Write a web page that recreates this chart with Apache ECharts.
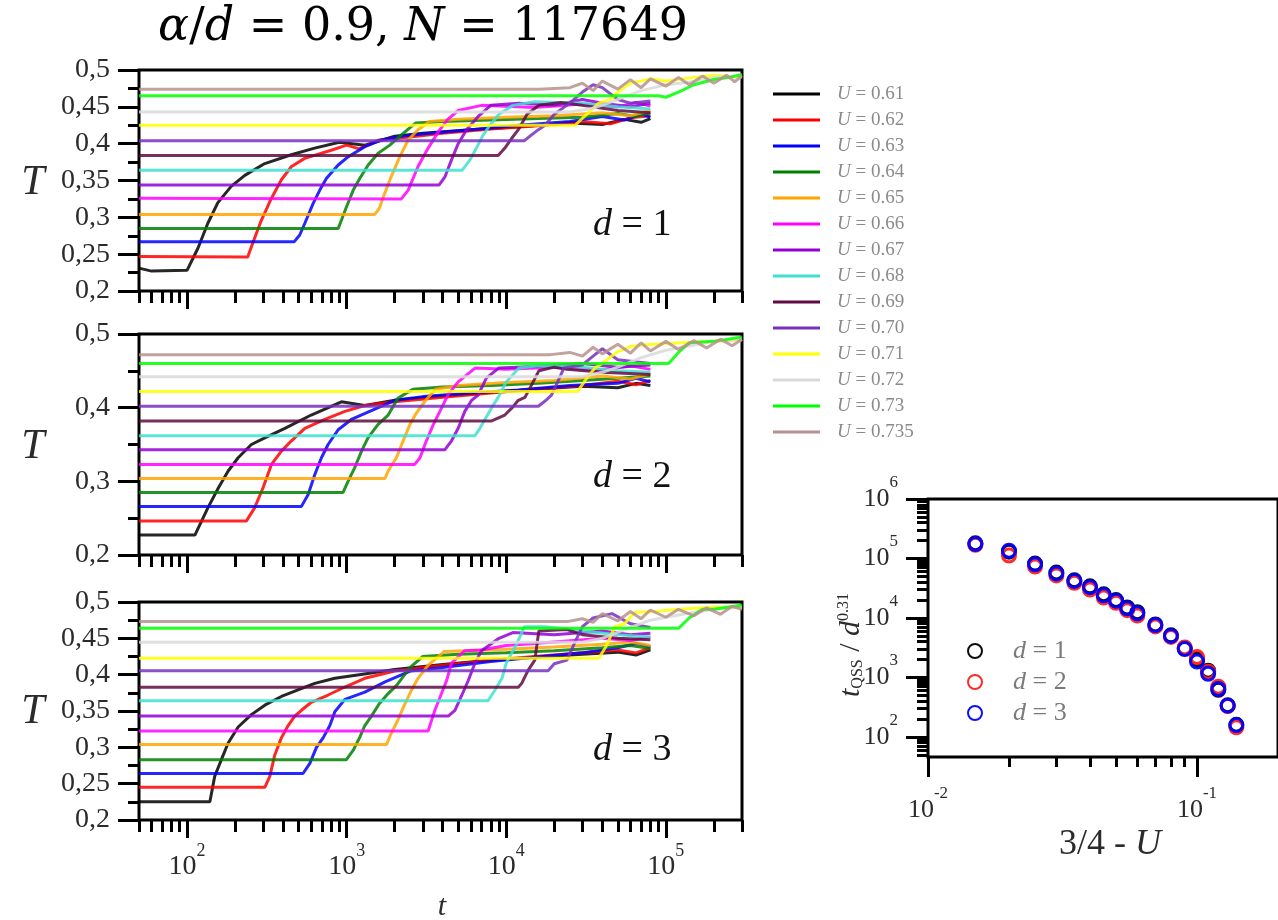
<!DOCTYPE html>
<html>
<head>
<meta charset="utf-8">
<script src="https://cdn.jsdelivr.net/npm/echarts@6/dist/echarts.min.js"></script>
<style>
html, body { margin: 0; background: #fff; }
#chart { width: 1278px; height: 920px; }
</style>
</head>
<body>
<div id="chart"></div>
<script>
// U values shown in the legend, one curve per value in every panel
const uValues = ['0.61', '0.62', '0.63', '0.64', '0.65', '0.66', '0.67', '0.68', '0.69', '0.70', '0.71', '0.72', '0.73', '0.735']
const lineColors = ['#000000', '#ff0000', '#0000ff', '#008000', '#ffa500', '#ff00ff', '#9400d3', '#40e0d0',
    '#5f0a42', '#7630c0', '#ffff00', '#d9d9d9', '#00ff00', '#b8908c']

// T(t) curves, d = 1
const curvesD1 = [
    [[50,.231],[60,.227],[100,.228],[117,.258],[135,.292],[156,.32],[189,.342],[230,.357],[307,.373],[450,.385],[630,.394],[900,.402],[1300,.398],[2000,.41],[3000,.414],[6000,.419],[1.2e4,.423],[2.5e4,.428],[4e4,.426],[5.5e4,.433],[7e4,.429],[8e4,.434]],
    [[50,.247],[240,.246],[253,.26],[292,.296],[338,.326],[390,.351],[451,.369],[546,.38],[800,.391],[1000,.398],[1200,.393],[1600,.405],[2500,.409],[4000,.414],[8000,.42],[1.5e4,.424],[3e4,.43],[4.5e4,.427],[6e4,.435],[8e4,.438]],
    [[50,.267],[470,.267],[508,.276],[547,.292],[617,.319],[679,.337],[748,.353],[885,.371],[1020,.382],[1300,.396],[1650,.405],[2200,.41],[3000,.413],[6000,.419],[1.2e4,.425],[2.5e4,.43],[4e4,.437],[5.5e4,.432],[7e4,.44],[8e4,.436]],
    [[50,.285],[886,.285],[927,.296],[997,.314],[1100,.337],[1210,.353],[1365,.371],[1575,.387],[1865,.398],[2200,.412],[2700,.428],[4000,.43],[8000,.432],[1.6e4,.434],[3e4,.436],[5e4,.441],[6.5e4,.437],[8e4,.442]],
    [[50,.304],[1500,.304],[1600,.312],[1700,.328],[1900,.355],[2150,.382],[2430,.405],[2800,.419],[3300,.43],[5000,.433],[1e4,.436],[2e4,.438],[4e4,.442],[6e4,.438],[8e4,.445]],
    [[50,.326],[2200,.325],[2430,.337],[2800,.369],[3240,.394],[3750,.416],[4300,.433],[5000,.445],[7000,.452],[1.5e4,.449],[3e4,.454],[5e4,.45],[6.5e4,.456],[8e4,.451]],
    [[50,.344],[3800,.344],[4130,.355],[4540,.378],[5000,.40],[5640,.419],[6670,.437],[8000,.452],[1.2e4,.455],[2e4,.452],[3e4,.46],[4e4,.455],[6e4,.45],[8e4,.455]],
    [[50,.364],[5300,.364],[5930,.378],[6500,.394],[7170,.412],[7900,.425],[9000,.44],[1.1e4,.452],[1.5e4,.457],[3e4,.455],[5e4,.45],[8e4,.447]],
    [[50,.384],[8900,.384],[9800,.394],[1.08e4,.407],[1.19e4,.419],[1.35e4,.44],[1.6e4,.452],[2.2e4,.456],[3e4,.452],[5e4,.445],[8e4,.442]],
    [[50,.404],[1.3e4,.404],[1.44e4,.412],[1.59e4,.419],[1.75e4,.425],[2e4,.44],[2.5e4,.455],[3e4,.47],[3.5e4,.48],[4e4,.476],[5e4,.46],[6e4,.455],[8e4,.458]],
    [[50,.425],[2.7e4,.425],[3.2e4,.44],[3.8e4,.455],[4.5e4,.46],[5e4,.47],[6e4,.482],[8e4,.488],[1e5,.485],[1.5e5,.49],[2e5,.493],[3e5,.49]],
    [[50,.443],[2.5e4,.443],[3.5e4,.448],[5e4,.46],[7e4,.472],[1e5,.48],[1.5e5,.484],[2e5,.49],[3e5,.492]],
    [[50,.465],[9e4,.465],[1e5,.463],[1.2e5,.47],[1.5e5,.48],[2e5,.487],[2.5e5,.49],[3e5,.494]],
    [[50,.474],[1.6e4,.474],[2.5e4,.476],[3e4,.482],[3.5e4,.472],[4e4,.485],[5e4,.474],[6e4,.487],[7e4,.476],[8e4,.488],[1e5,.478],[1.2e5,.49],[1.4e5,.48],[1.7e5,.492],[2e5,.482],[2.4e5,.493],[2.7e5,.484],[3e5,.492]]
]

// T(t) curves, d = 2
const curvesD2 = [
    [[50,.227],[112,.227],[135,.264],[157,.291],[181,.314],[209,.332],[253,.35],[307,.359],[410,.372],[600,.39],[927,.408],[1300,.403],[2000,.41],[4000,.416],[8000,.421],[1.5e4,.425],[3e4,.429],[5e4,.427],[6.5e4,.433],[8e4,.43]],
    [[50,.246],[235,.246],[265,.264],[299,.291],[338,.323],[390,.341],[451,.355],[547,.372],[730,.384],[975,.395],[1300,.403],[2000,.408],[4000,.414],[8000,.42],[1.5e4,.425],[3e4,.43],[5e4,.436],[6.5e4,.431],[8e4,.437]],
    [[50,.266],[521,.266],[574,.282],[631,.309],[695,.332],[765,.35],[885,.37],[1070,.384],[1430,.396],[2000,.41],[3000,.415],[6000,.42],[1.2e4,.424],[2.5e4,.43],[5e4,.433],[6.5e4,.44],[8e4,.435]],
    [[50,.285],[950,.285],[1020,.30],[1120,.318],[1240,.341],[1360,.359],[1570,.377],[1820,.39],[2100,.413],[2600,.425],[4000,.428],[8000,.43],[1.6e4,.433],[3e4,.437],[5e4,.44],[8e4,.443]],
    [[50,.304],[1740,.304],[1820,.314],[2050,.332],[2260,.355],[2490,.377],[2740,.393],[3100,.409],[3600,.425],[5000,.43],[1e4,.434],[2e4,.437],[4e4,.443],[6e4,.439],[8e4,.446]],
    [[50,.323],[2670,.323],[2880,.332],[3160,.355],[3490,.377],[3840,.395],[4330,.418],[5000,.435],[6400,.454],[1e4,.452],[2e4,.455],[4e4,.451],[6e4,.457],[8e4,.452]],
    [[50,.343],[4130,.343],[4540,.355],[5000,.372],[5500,.395],[6070,.41],[6670,.417],[7500,.44],[9000,.454],[1.5e4,.456],[3e4,.46],[5e4,.455],[8e4,.458]],
    [[50,.362],[6370,.362],[6840,.372],[7350,.384],[8100,.40],[8900,.414],[1e4,.435],[1.2e4,.454],[1.6e4,.457],[3e4,.455],[5e4,.45],[8e4,.448]],
    [[50,.382],[8100,.382],[9800,.39],[1.09e4,.40],[1.19e4,.41],[1.31e4,.414],[1.45e4,.432],[1.6e4,.45],[2e4,.455],[2.4e4,.452],[4e4,.448],[8e4,.445]],
    [[50,.402],[1.59e4,.402],[1.75e4,.409],[1.92e4,.417],[2.1e4,.435],[2.3e4,.454],[3e4,.458],[3.5e4,.47],[4e4,.48],[5e4,.465],[8e4,.46]],
    [[50,.422],[2.8e4,.422],[3.2e4,.44],[3.6e4,.454],[4e4,.46],[4.9e4,.475],[6e4,.483],[7.1e4,.485],[1e5,.487],[2e5,.49],[3e5,.492]],
    [[50,.442],[3e4,.442],[4e4,.448],[5e4,.455],[7e4,.468],[1e5,.478],[1.5e5,.485],[2e5,.49],[3e5,.493]],
    [[50,.46],[1.04e5,.46],[1.2e5,.475],[1.4e5,.488],[2e5,.49],[3e5,.496]],
    [[50,.472],[1.9e4,.472],[2.5e4,.475],[3e4,.47],[3.5e4,.482],[4e4,.473],[5e4,.486],[6e4,.474],[7e4,.488],[8e4,.477],[1e5,.49],[1.2e5,.479],[1.5e5,.491],[1.8e5,.481],[2.2e5,.493],[2.6e5,.484],[3e5,.493]]
]

// T(t) curves, d = 3
const curvesD3 = [
    [[50,.225],[139,.225],[149,.26],[164,.283],[181,.306],[209,.328],[253,.345],[307,.358],[390,.37],[496,.379],[631,.388],[843,.395],[1200,.40],[2000,.407],[4000,.414],[8000,.42],[1.5e4,.424],[3e4,.428],[5e4,.431],[6.5e4,.427],[8e4,.434]],
    [[50,.245],[307,.245],[330,.26],[354,.289],[390,.313],[430,.33],[473,.343],[521,.351],[600,.362],[765,.372],[975,.383],[1300,.395],[2000,.405],[4000,.413],[8000,.42],[1.5e4,.425],[3e4,.43],[5e4,.434],[6.5e4,.43],[8e4,.437]],
    [[50,.264],[533,.264],[588,.278],[647,.30],[712,.313],[785,.33],[843,.349],[975,.366],[1300,.376],[1740,.39],[2500,.405],[4000,.41],[8000,.418],[1.5e4,.424],[3e4,.43],[5e4,.437],[6.5e4,.443],[8e4,.438]],
    [[50,.283],[997,.283],[1100,.296],[1210,.314],[1300,.33],[1430,.343],[1600,.36],[1820,.374],[2050,.385],[2500,.41],[3000,.425],[5000,.428],[1e4,.43],[2e4,.433],[4e4,.437],[6e4,.44],[8e4,.436]],
    [[50,.304],[1780,.304],[1900,.319],[2100,.338],[2300,.358],[2550,.379],[2800,.395],[3240,.413],[4100,.432],[5500,.433],[1e4,.435],[2e4,.438],[4e4,.442],[6e4,.445],[8e4,.44]],
    [[50,.3225],[3240,.3225],[3570,.351],[3930,.374],[4230,.392],[4540,.416],[5500,.433],[7000,.434],[1e4,.44],[2e4,.445],[4e4,.45],[6e4,.447],[8e4,.452]],
    [[50,.343],[4330,.343],[4770,.351],[5250,.371],[5780,.392],[6370,.416],[7000,.433],[9000,.45],[1.1e4,.458],[2e4,.455],[4e4,.46],[6e4,.455],[8e4,.457]],
    [[50,.364],[7700,.364],[8500,.379],[9400,.395],[1e4,.416],[1.15e4,.44],[1.3e4,.466],[1.75e4,.466],[3e4,.46],[5e4,.455],[8e4,.452]],
    [[50,.3826],[1.19e4,.3826],[1.25e4,.388],[1.37e4,.406],[1.51e4,.42],[1.6e4,.46],[2.4e4,.462],[3e4,.455],[5e4,.45],[8e4,.448]],
    [[50,.4055],[1.83e4,.4055],[2e4,.415],[2.4e4,.42],[2.7e4,.445],[3e4,.466],[3.5e4,.478],[4.6e4,.484],[6e4,.47],[8e4,.465]],
    [[50,.4225],[3.8e4,.4225],[4.2e4,.438],[4.8e4,.466],[5.5e4,.47],[6.4e4,.486],[8.5e4,.487],[1.2e5,.49],[2e5,.493],[3e5,.492]],
    [[50,.4445],[3e4,.4445],[4e4,.45],[6e4,.465],[8e4,.475],[1.2e5,.482],[2e5,.49],[3e5,.493]],
    [[50,.4638],[1.2e5,.4638],[1.4e5,.478],[1.7e5,.49],[2e5,.49],[3e5,.496]],
    [[50,.473],[2.4e4,.473],[3e4,.477],[3.5e4,.472],[4e4,.484],[5e4,.474],[6e4,.487],[7e4,.477],[8e4,.489],[1e5,.479],[1.2e5,.49],[1.5e5,.481],[1.8e5,.492],[2.2e5,.483],[2.6e5,.494],[3e5,.49]]
]

// inset: t_QSS / d^0.31 against 3/4 - U
const qssX = [0.015, 0.02, 0.025, 0.03, 0.035, 0.04, 0.045, 0.05, 0.055, 0.06, 0.07, 0.08, 0.09, 0.10, 0.11, 0.12, 0.13, 0.14]
const qssD1 = [1.8e5, 1.3e5, 8.2e4, 5.8e4, 4.3e4, 3.4e4, 2.5e4, 2.0e4, 1.5e4, 1.25e4, 7.8e3, 5.1e3, 3.1e3, 2.0e3, 1.3e3, 620, 340, 160]
const qssD2 = [1.7e5, 1.12e5, 7.3e4, 5.2e4, 3.9e4, 3.0e4, 2.2e4, 1.8e4, 1.35e4, 1.1e4, 7.2e3, 4.8e3, 3.2e3, 2.2e3, 1.25e3, 700, 330, 145]
const qssD3 = [1.75e5, 1.35e5, 8.0e4, 5.6e4, 4.2e4, 3.3e4, 2.4e4, 1.95e4, 1.45e4, 1.2e4, 7.6e3, 5.0e3, 3.0e3, 1.85e3, 1.15e3, 640, 336, 158]

// tick positions
const tMajorTicks = [100, 1000, 1e4, 1e5]
const tMinorTicks = [50, 60, 70, 80, 90, 200, 300, 400, 500, 600, 700, 800, 900, 2000, 3000, 4000, 5000, 6000, 7000, 8000, 9000,
    2e4, 3e4, 4e4, 5e4, 6e4, 7e4, 8e4, 9e4, 2e5, 3e5]
const insetXMajor = [0.01, 0.1]
const insetXMinor = [0.02, 0.03, 0.04, 0.05, 0.06, 0.07, 0.08, 0.09]
const insetYMajor = [1e2, 1e3, 1e4, 1e5, 1e6]
const insetYMinor = [50, 60, 70, 80, 90, 200, 300, 400, 500, 600, 700, 800, 900, 2000, 3000, 4000, 5000, 6000, 7000, 8000, 9000,
    2e4, 3e4, 4e4, 5e4, 6e4, 7e4, 8e4, 9e4, 2e5, 3e5, 4e5, 5e5, 6e5, 7e5, 8e5, 9e5]
const dLabels = ['1', '2', '3']

const serif = '"Liberation Serif", "Times New Roman", serif'
const ink = '#000'
const labelInk = '#2b2b2b'

const panelGrids = [
    { left: 139, top: 70, width: 603, height: 221 },
    { left: 139, top: 334, width: 603, height: 221 },
    { left: 139, top: 602, width: 603, height: 218 },
]

function powLabel(v) {
    const e = Math.round(Math.log10(v))
    return '{b|10}{s|' + e + '}'
}

function powRich(base, small) {
    return {
        b: { fontSize: base, fontFamily: serif, color: labelInk, lineHeight: 50 },
        s: { fontSize: small, fontFamily: serif, color: labelInk, verticalAlign: 'top', lineHeight: small },
    }
}

function commaLabel(v) {
    return String(Math.round(v * 100) / 100).replace('.', ',')
}

let chart = echarts.init(document.getElementById('chart'), null, { renderer: 'canvas' })

let grids = panelGrids.map(g => ({
    show: true, left: g.left, top: g.top, width: g.width, height: g.height,
    borderColor: ink, borderWidth: 3, backgroundColor: 'transparent',
}))
grids.push({ show: true, left: 928, top: 499, width: 364, height: 258, borderColor: ink, borderWidth: 3, backgroundColor: 'transparent' })

let xAxes = []
let yAxes = []
panelGrids.forEach((g, p) => {
    xAxes.push({
        type: 'log', gridIndex: p, position: 'bottom', min: 50, max: 3e5, logBase: 10,
        axisLine: { show: false }, splitLine: { show: false }, minorTick: { show: false },
        axisTick: { show: true, length: 18, lineStyle: { width: 3, color: ink }, customValues: tMajorTicks },
        axisLabel: { show: p === 2, customValues: tMajorTicks, margin: 22, formatter: powLabel, rich: powRich(28, 18) },
    })
    xAxes.push({
        type: 'log', gridIndex: p, position: 'bottom', min: 50, max: 3e5, logBase: 10,
        axisLine: { show: false }, splitLine: { show: false }, minorTick: { show: false },
        axisTick: { show: true, length: 12, lineStyle: { width: 3, color: ink }, customValues: tMinorTicks },
        axisLabel: { show: false },
    })
    yAxes.push({
        type: 'value', gridIndex: p, position: 'left', min: 0.2, max: 0.5, interval: p === 1 ? 0.1 : 0.05,
        axisLine: { show: false }, splitLine: { show: false },
        axisTick: { show: true, length: 21, lineStyle: { width: 3, color: ink } },
        minorTick: { show: true, splitNumber: 2, length: 11, lineStyle: { width: 3, color: ink } },
        axisLabel: { margin: 29, fontSize: 28, fontFamily: serif, color: labelInk, formatter: commaLabel },
    })
})

// inset axes
xAxes.push({
    type: 'log', gridIndex: 3, position: 'bottom', min: 0.01, max: 0.2, logBase: 10,
    axisLine: { show: false }, splitLine: { show: false }, minorTick: { show: false },
    axisTick: { show: true, length: 20, lineStyle: { width: 3, color: ink }, customValues: insetXMajor },
    axisLabel: { customValues: insetXMajor, margin: 28, formatter: powLabel, rich: powRich(26, 17) },
})
xAxes.push({
    type: 'log', gridIndex: 3, position: 'bottom', min: 0.01, max: 0.2, logBase: 10,
    axisLine: { show: false }, splitLine: { show: false }, minorTick: { show: false },
    axisTick: { show: true, length: 10, lineStyle: { width: 3, color: ink }, customValues: insetXMinor },
    axisLabel: { show: false },
})
yAxes.push({
    type: 'log', gridIndex: 3, position: 'left', min: 46, max: 1e6, logBase: 10,
    axisLine: { show: false }, splitLine: { show: false }, minorTick: { show: false },
    axisTick: { show: true, length: 22, lineStyle: { width: 3, color: ink }, customValues: insetYMajor },
    axisLabel: { customValues: insetYMajor, margin: 30, formatter: powLabel, rich: powRich(26, 17) },
})
yAxes.push({
    type: 'log', gridIndex: 3, position: 'left', min: 46, max: 1e6, logBase: 10,
    axisLine: { show: false }, splitLine: { show: false }, minorTick: { show: false },
    axisTick: { show: true, length: 11, lineStyle: { width: 3, color: ink }, customValues: insetYMinor },
    axisLabel: { show: false },
})

let series = []
const allCurves = [curvesD1, curvesD2, curvesD3]
allCurves.forEach((curves, p) => {
    curves.forEach((pts, i) => {
        series.push({
            type: 'line', name: 'U = ' + uValues[i],
            xAxisIndex: 2 * p, yAxisIndex: p,
            data: pts, showSymbol: false, symbol: 'none',
            lineStyle: { width: 3, color: lineColors[i], opacity: 0.85 },
            itemStyle: { color: lineColors[i] },
            silent: true, animation: false,
        })
    })
})

const qssSets = [qssD1, qssD2, qssD3]
const qssColors = ['#000000', '#ff2020', '#0000ff']
qssSets.forEach((vals, k) => {
    series.push({
        type: 'scatter', name: 'd = ' + dLabels[k],
        xAxisIndex: 6, yAxisIndex: 3,
        data: qssX.map((x, j) => [x, vals[j]]),
        symbol: 'circle', symbolSize: 13,
        itemStyle: { color: 'rgba(255,255,255,0)', borderColor: qssColors[k], borderWidth: 3, opacity: 0.95 },
        silent: true, animation: false,
    })
})

let graphics = [
    {
        type: 'text', x: 423, y: 28,
        style: {
            text: '{i|α}/{i|d} = 0.9, {i|N} = 117649',
            fontFamily: 'DejaVu Serif', fontSize: 46, fill: '#000', align: 'center', verticalAlign: 'middle',
            rich: { i: { fontStyle: 'italic', fontFamily: 'DejaVu Serif', fontSize: 46, fill: '#000' } },
        },
    },
    {
        type: 'text', x: 442, y: 907,
        style: { text: 't', fontFamily: serif, fontStyle: 'italic', fontSize: 30, fill: labelInk, align: 'center', verticalAlign: 'middle' },
    },
    {
        type: 'text', x: 1110, y: 845,
        style: {
            text: '3/4 - {i|U}', fontFamily: serif, fontSize: 36, fill: labelInk, align: 'center', verticalAlign: 'middle',
            rich: { i: { fontStyle: 'italic', fontFamily: serif, fontSize: 36, fill: labelInk } },
        },
    },
    {
        type: 'text', x: 851, y: 645, rotation: Math.PI / 2,
        style: {
            text: '{i|t}{sub|QSS}{n| / }{i|d}{sup|0.31}',
            fontFamily: serif, fontSize: 30, fill: labelInk, align: 'center', verticalAlign: 'middle',
            rich: {
                i: { fontStyle: 'italic', fontFamily: serif, fontSize: 30, fill: labelInk, lineHeight: 30 },
                n: { fontFamily: serif, fontSize: 30, fill: labelInk, lineHeight: 30 },
                sub: { fontFamily: serif, fontSize: 16, fill: labelInk, verticalAlign: 'bottom', lineHeight: 12 },
                sup: { fontFamily: serif, fontSize: 16, fill: labelInk, verticalAlign: 'top', lineHeight: 12 },
            },
        },
    },
]
const tLabelY = [183, 447, 712]
const dLabelY = [225, 477, 750]
panelGrids.forEach((g, p) => {
    graphics.push({
        type: 'text', x: 33, y: tLabelY[p],
        style: { text: 'T', fontFamily: serif, fontStyle: 'italic', fontSize: 42, fill: labelInk, align: 'center', verticalAlign: 'middle' },
    })
    graphics.push({
        type: 'text', x: 593, y: dLabelY[p],
        style: {
            text: '{i|d} = ' + dLabels[p], fontFamily: serif, fontSize: 38, fill: '#111', align: 'left', verticalAlign: 'middle',
            rich: { i: { fontStyle: 'italic', fontFamily: serif, fontSize: 38, fill: '#111' } },
        },
    })
})

let options = {
    backgroundColor: '#fff',
    animation: false,
    grid: grids,
    xAxis: xAxes,
    yAxis: yAxes,
    legend: [
        {
            orient: 'vertical', left: 768, top: 79, icon: 'rect', itemWidth: 47, itemHeight: 3, itemGap: 6,
            selectedMode: false,
            data: uValues.map(u => 'U = ' + u),
            formatter: name => '{sp|}{i|U} = ' + name.split('= ')[1],
            textStyle: {
                fontSize: 19, lineHeight: 20, color: '#8a8a8a', fontFamily: serif,
                rich: {
                    sp: { width: 12 },
                    i: { fontStyle: 'italic', fontSize: 19, color: '#8a8a8a', fontFamily: serif },
                },
            },
        },
        {
            orient: 'vertical', left: 962, top: 632, itemWidth: 36, itemHeight: 14, itemGap: 3,
            selectedMode: false,
            data: dLabels.map(d => 'd = ' + d),
            formatter: name => '{sp|}{i|d} = ' + name.split('= ')[1],
            textStyle: {
                fontSize: 26, lineHeight: 28, color: '#7a7a7a', fontFamily: serif,
                rich: {
                    sp: { width: 15 },
                    i: { fontStyle: 'italic', fontSize: 26, color: '#7a7a7a', fontFamily: serif },
                },
            },
        },
    ],
    graphic: graphics,
    series: series,
}

chart.setOption(options)
</script>
</body>
</html>
